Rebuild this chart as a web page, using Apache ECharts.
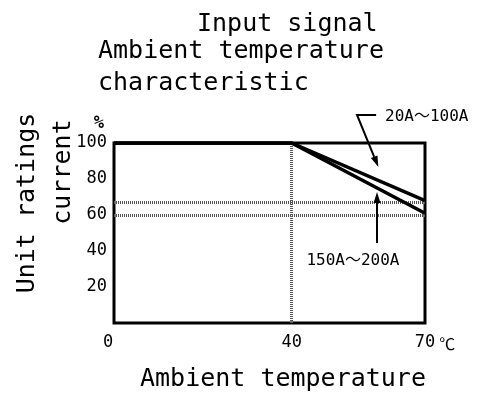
<!DOCTYPE html>
<html>
<head>
<meta charset="utf-8">
<script src="https://cdn.jsdelivr.net/npm/echarts@6/dist/echarts.min.js"></script>
<style>
  html, body { margin: 0; padding: 0; background: #fff; }
  #graph { width: 487px; height: 403px; }
</style>
</head>
<body>
<div id="graph"></div>
<script>
// ambient temperature (deg C) and rated current (%)
var temps = [0, 40, 70];
var rate20to100 = [100, 100, 68];
var rate150to200 = [100, 100, 61];
var refLevels = [67, 60];
var kneeTemp = 40;
var xTickLabels = [0, 40, 70];
var yTickLabels = [20, 40, 60, 80, 100];

// callouts, in data units (temperature, %)
var callout20to100 = { label: '20A〜100A', path: [[59, 115.6], [54.7, 115.6], [59.5, 86.7]], text: [61, 114.4] };
var callout150to200 = { label: '150A〜200A', path: [[59.2, 44.4], [59.2, 72.8]], text: [43.3, 34.4] };

var mono = '"DejaVu Sans Mono", "Liberation Mono", "Noto Sans CJK JP", monospace';

var dom = document.getElementById("graph");
var chart = echarts.init(dom);

function pairs(xs, ys) {
    return xs.map(function (x, i) { return [x, ys[i]]; });
}

var titleStyle = { fontFamily: mono, fontSize: 25, fontWeight: 'normal', color: '#000' };
var refStyle = { color: '#555', width: 3, type: [1, 1] };

chart.setOption({
    backgroundColor: '#fff',
    animation: false,
    textStyle: { fontFamily: mono },
    title: [
        { text: 'Input signal', left: 192, top: 7, textStyle: titleStyle },
        { text: 'Ambient temperature', left: 93, top: 34, textStyle: titleStyle },
        { text: 'characteristic', left: 93, top: 66, textStyle: titleStyle },
        { text: 'Ambient temperature', left: 135, top: 362, textStyle: titleStyle }
    ],
    grid: {
        left: 114, right: 62, top: 143, bottom: 80,
        show: true, borderColor: '#000', borderWidth: 3, backgroundColor: 'transparent'
    },
    xAxis: {
        type: 'value', min: 0, max: 70, interval: 10,
        name: '℃', nameLocation: 'end', nameGap: 14,
        nameTextStyle: { fontFamily: mono, fontSize: 16, color: '#000', verticalAlign: 'top', padding: [15, 0, 0, 0] },
        axisLine: { show: false }, axisTick: { show: false }, splitLine: { show: false },
        axisLabel: {
            color: '#000', fontSize: 17, margin: 11,
            formatter: function (v) {
                if (xTickLabels.indexOf(v) < 0) return '';
                return v === 0 ? '{z|0}' : String(v);
            },
            rich: { z: { fontFamily: mono, fontSize: 17, color: '#000', padding: [0, 12, 0, 0] } }
        }
    },
    yAxis: {
        type: 'value', min: 0, max: 100, interval: 20,
        axisLine: { show: false }, axisTick: { show: false }, splitLine: { show: false },
        axisLabel: {
            color: '#000', fontSize: 17, margin: 7,
            formatter: function (v) { return yTickLabels.indexOf(v) < 0 ? '' : String(v); }
        }
    },
    series: [
        {
            name: '20A〜100A', type: 'line', data: pairs(temps, rate20to100),
            symbol: 'none', lineStyle: { color: '#000', width: 3.5 }, z: 5,
            markLine: {
                silent: true, symbol: 'none', label: { show: false },
                lineStyle: refStyle,
                data: refLevels.map(function (v) { return { yAxis: v }; })
                    .concat([{ xAxis: kneeTemp }])
            }
        },
        {
            name: '150A〜200A', type: 'line', data: pairs(temps, rate150to200),
            symbol: 'none', lineStyle: { color: '#000', width: 3.5 }, z: 5
        }
    ]
});

// axis titles on the left, and callout arrows placed through the grid's scales
function toPx(p) {
    return chart.convertToPixel({ gridIndex: 0 }, p);
}

function callout(c) {
    var pts = c.path.map(toPx);
    var a = pts[pts.length - 2], b = pts[pts.length - 1];
    var ang = Math.atan2(b[1] - a[1], b[0] - a[0]);
    var len = 11, half = 3.5;
    var base = [b[0] - len * Math.cos(ang), b[1] - len * Math.sin(ang)];
    var nx = -Math.sin(ang) * half, ny = Math.cos(ang) * half;
    var t = toPx(c.text);
    return [
        { type: 'polyline', z: 10, shape: { points: pts.slice(0, -1).concat([base]) },
          style: { stroke: '#000', lineWidth: 2, fill: null } },
        { type: 'polygon', z: 10, shape: { points: [b, [base[0] + nx, base[1] + ny], [base[0] - nx, base[1] - ny]] },
          style: { fill: '#000' } },
        { type: 'text', z: 10, x: t[0], y: t[1],
          style: { text: c.label, fontFamily: mono, fontSize: 16, fill: '#000', align: 'left', verticalAlign: 'middle' } }
    ];
}

var pctPos = toPx([-3.4, 111]);

chart.setOption({
    graphic: [
        { type: 'text', x: 27, y: 203, rotation: Math.PI / 2,
          style: { text: 'Unit ratings', fontFamily: mono, fontSize: 25, fill: '#000', align: 'center', verticalAlign: 'middle' } },
        { type: 'text', x: 63, y: 172, rotation: Math.PI / 2,
          style: { text: 'current', fontFamily: mono, fontSize: 25, fill: '#000', align: 'center', verticalAlign: 'middle' } },
        { type: 'text', x: pctPos[0], y: pctPos[1],
          style: { text: '%', fontFamily: mono, fontSize: 17, fontWeight: 'bold', fill: '#000', align: 'center', verticalAlign: 'middle' } }
    ].concat(callout(callout20to100), callout(callout150to200))
});
</script>
</body>
</html>
